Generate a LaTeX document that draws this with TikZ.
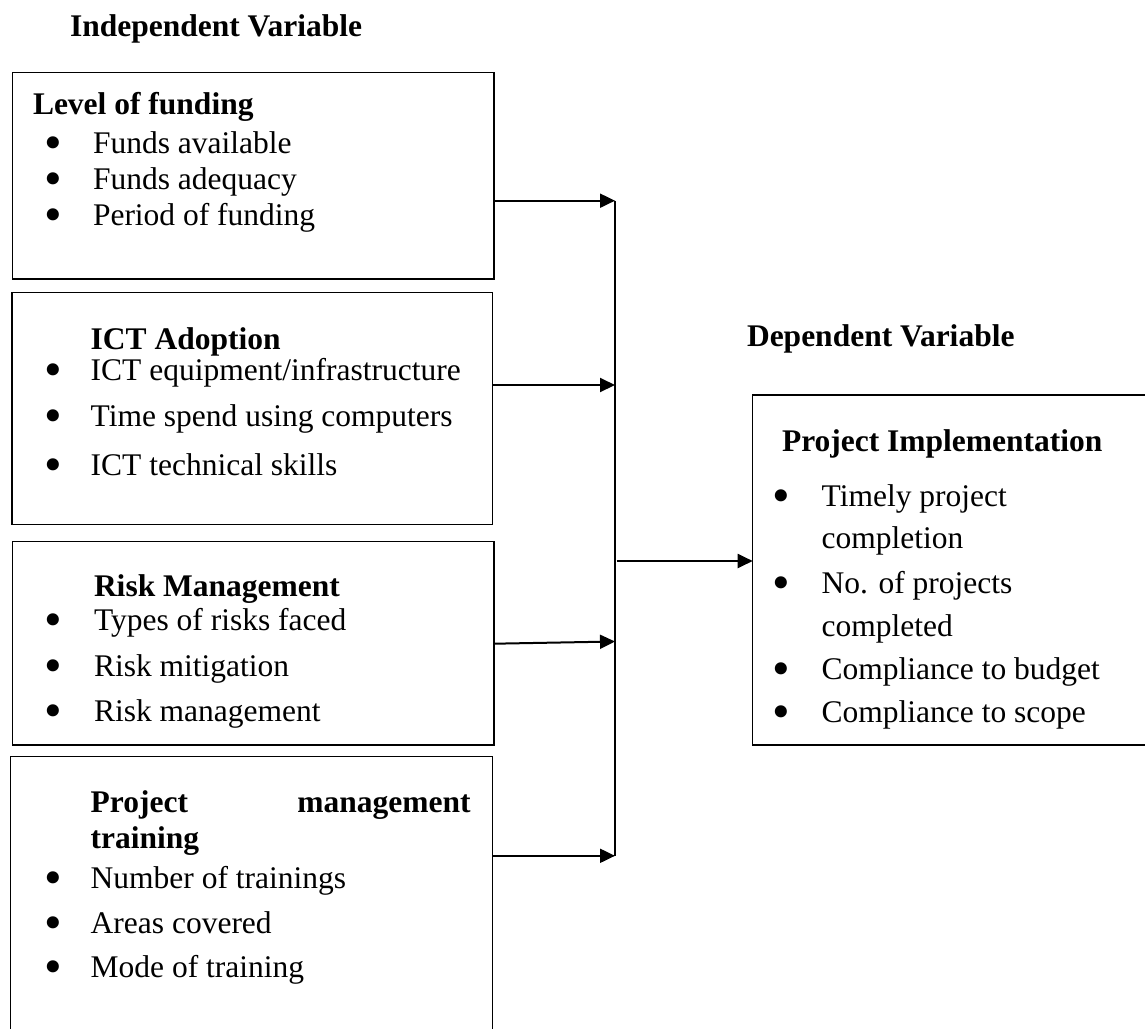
\documentclass[tikz,border=0pt]{standalone}
\usepackage{graphicx}
\usepackage{fontspec}
\setmainfont{Liberation Serif}
\usetikzlibrary{arrows.meta}
\newcommand\bitem[1]{\makebox[#1pt][l]{\hspace*{-1.5pt}\smash{\raisebox{-6pt}{\scalebox{1.6}{•}}}}}
\begin{document}
\begin{tikzpicture}[x=1pt,y=-1pt,
  box/.style={draw, line width=1.5pt, inner sep=0pt, outer sep=0pt, anchor=north west},
  txt/.style={anchor=base west, inner sep=0pt, outer sep=0pt, font=\fontsize{31.5}{36}\selectfont},
  hd/.style={anchor=base west, inner sep=0pt, outer sep=0pt, font=\fontsize{31.5}{36}\selectfont\bfseries},
  arr/.style={line width=2pt, -{Triangle[length=15pt,width=14pt]}},
  vline/.style={line width=1.3pt}]
\useasboundingbox (0,0) rectangle (1145,1028);
\clip (0,0) rectangle (1145,1028);
\fill[white] (0,0) rectangle (1145,1028);

% titles
\node[hd] (indep) at (70,36.7) {Independent Variable};
\node[hd] (depl) at (747,346.7) {Dependent Variable};

% boxes
\node[box, minimum width=481.3pt, minimum height=206.3pt] (b1) at (12.7,72.7) {};
\node[box, minimum width=480.7pt, minimum height=231.6pt] (b2) at (12,292.7) {};
\node[box, minimum width=481.3pt, minimum height=203.5pt] (b3) at (12.7,541.5) {};
\node[box, minimum width=481.8pt, minimum height=300pt] (b4) at (10.7,756.5) {};
\node[box, minimum width=420pt, minimum height=350pt] (dep) at (752.7,395) {};

% box 1 text
\node[hd] (t1) at (33,114.3) {Level of funding};
\node[txt] (t1a) at (46,153.3) {\bitem{47}Funds available};
\node[txt] (t1b) at (46,189.3) {\bitem{47}Funds adequacy};
\node[txt] (t1c) at (46,225) {\bitem{47}Period of funding};

% box 2 text
\node[hd] (t2) at (90.7,349.3) {ICT Adoption};
\node[txt] (t2a) at (46,380) {\bitem{44.7}ICT equipment/infrastructure};
\node[txt] (t2b) at (46,426.7) {\bitem{44.7}Time spend using computers};
\node[txt] (t2c) at (46,475) {\bitem{44.7}ICT technical skills};

% box 3 text
\node[hd] (t3) at (94,596.7) {Risk Management};
\node[txt] (t3a) at (46,630) {\bitem{48}Types of risks faced};
\node[txt] (t3b) at (46,676.7) {\bitem{48}Risk mitigation};
\node[txt] (t3c) at (46,721.7) {\bitem{48}Risk management};

% box 4 text
\node[hd] (t4) at (90.7,812.7) {\makebox[380pt][s]{Project\hfill management}};
\node[hd] (t4b) at (90.7,848.3) {training};
\node[txt] (t4c) at (46,888.3) {\bitem{44.7}Number of trainings};
\node[txt] (t4d) at (46,933.3) {\bitem{44.7}Areas covered};
\node[txt] (t4e) at (46,977.3) {\bitem{44.7}Mode of training};

% dependent box text
\node[hd] (td) at (782,451.7) {Project Implementation};
\node[txt] (tda) at (774,506.7) {\bitem{47.7}Timely project};
\node[txt] (tdb) at (821.7,548.3) {completion};
\node[txt] (tdc) at (774,593.3) {\bitem{47.7}No. of projects};
\node[txt] (tdd) at (821.7,636) {completed};
\node[txt] (tde) at (774,679.3) {\bitem{47.7}Compliance to budget};
\node[txt] (tdf) at (774,722.7) {\bitem{47.7}Compliance to scope};

% connectors
\coordinate (v1) at (615,200.7);
\coordinate (v2) at (615,385);
\coordinate (v3) at (615,641.5);
\coordinate (s3) at (494,643.7);
\coordinate (v4) at (615,855.8);
\coordinate (vm) at (616.5,561);

\draw[vline] (v1) -- (v4);
\draw[arr] (b1.east |- v1) -- (v1);
\draw[arr] (b2.east |- v2) -- (v2);
\draw[arr] (b3.east |- s3) -- (v3);
\draw[arr] (b4.east |- v4) -- (v4);
\draw[arr] (vm) -- (dep.west |- vm);
\end{tikzpicture}
\end{document}
